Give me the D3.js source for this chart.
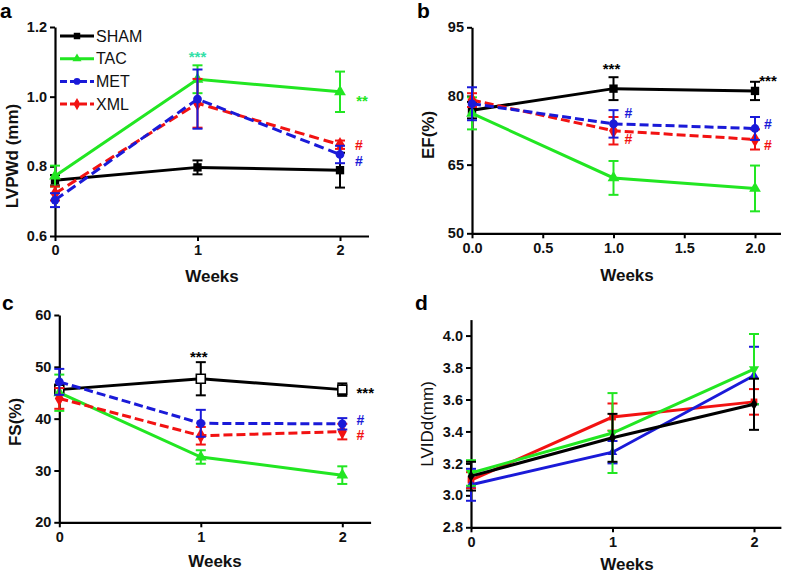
<!DOCTYPE html>
<html>
<head>
<meta charset="utf-8">
<script src="https://cdn.jsdelivr.net/npm/d3@7"></script>
<style>
  html, body { margin: 0; padding: 0; background: #fff; }
  svg { display: block; font-family: Arial, "Liberation Sans", sans-serif; }
</style>
</head>
<body>
<svg id="chart" width="787" height="574"></svg>
<script>
// ---------------- data ----------------
const weeks = [0, 1, 2];
const groups = ["SHAM", "TAC", "MET", "XML"];

// panel a: LVPWd (mm)  rows = SHAM, TAC, MET, XML
const lvpwdMean = [[0.760, 0.797, 0.789], [0.772, 1.050, 1.014], [0.703, 0.993, 0.834], [0.722, 0.981, 0.862]];
const lvpwdErr  = [[0.015, 0.020, 0.050], [0.030, 0.040, 0.058], [0.020, 0.085, 0.025], [0.020, 0.070, 0.012]];
const lvpwdTicks = [0.6, 0.8, 1.0, 1.2];

// panel b: EF(%)
const efMean = [[76.9, 81.6, 81.1], [76.2, 62.1, 59.8], [78.3, 73.9, 72.9], [79.1, 72.4, 70.5]];
const efErr  = [[1.8, 2.5, 2.0], [3.5, 3.7, 5.0], [3.6, 3.0, 2.5], [1.5, 3.0, 2.2]];
const efTicks = [50, 65, 80, 95];
const efWeekTicks = [0, 0.5, 1, 1.5, 2];

// panel c: FS(%)
const fsMean = [[45.6, 47.7, 45.6], [45.0, 32.6, 29.1], [47.1, 39.1, 39.0], [43.9, 36.7, 37.5]];
const fsErr  = [[1.0, 3.2, 1.2], [3.5, 1.3, 1.7], [2.5, 2.6, 1.1], [2.0, 1.7, 1.5]];
const fsTicks = [20, 30, 40, 50, 60];

// panel d: LVIDd(mm)
const lviddMean = [[3.12, 3.36, 3.57], [3.14, 3.39, 3.79], [3.066, 3.27, 3.75], [3.095, 3.49, 3.585]];
const lviddErr  = [[0.09, 0.15, 0.16], [0.08, 0.25, 0.22], [0.10, 0.07, 0.18], [0.05, 0.085, 0.08]];
const lviddTicks = [2.8, 3.0, 3.2, 3.4, 3.6, 3.8, 4.0];

// significance marks: [text, week, value, colour key]
const lvpwdMarks = [["***", 1, 1.125, "teal"], ["**", 2, 1.0, "TAC"], ["#", 2, 0.861, "XML"], ["#", 2, 0.816, "MET"]];
const efMarks = [["***", 1, 86.8, "SHAM"], ["***", 2, 84.1, "SHAM"], ["#", 1, 76.3, "MET"], ["#", 1, 70.6, "XML"], ["#", 2, 73.9, "MET"], ["#", 2, 69.3, "XML"]];
const fsMarks = [["***", 1, 52.7, "SHAM"], ["***", 2, 45.7, "SHAM"], ["#", 2, 39.8, "MET"], ["#", 2, 36.8, "XML"]];

// ---------------- styles ----------------
const colors = { SHAM: "#000000", TAC: "#22e622", MET: "#1a1ad8", XML: "#f21212", teal: "#33e0a8" };
const markShapes = { SHAM: d3.symbolSquare, TAC: d3.symbolTriangle, MET: d3.symbolCircle, XML: d3.symbolDiamond };
const markSizes = { SHAM: 70, TAC: 60, MET: 60, XML: 70 };

const svg = d3.select("#chart");
svg.append("rect").attr("width", 787).attr("height", 574).attr("fill", "#fff");

function drawPanel(cfg) {
  const g = svg.append("g");
  const x = d3.scaleLinear().domain([0, cfg.xMax]).range([cfg.x0, cfg.x0 + (cfg.x2 - cfg.x0) * cfg.xMax / 2]);
  const y = d3.scaleLinear().domain(cfg.yDomain).range(cfg.yRange);

  // axes
  const yAxis = d3.axisLeft(y).tickValues(cfg.yTicks).tickSize(5).tickSizeOuter(0).tickPadding(3)
    .tickFormat(cfg.yFormat);
  const ya = g.append("g").attr("transform", `translate(${cfg.x0},0)`).call(yAxis);
  const xAxis = d3.axisBottom(x).tickValues(cfg.xTicks).tickSize(5).tickSizeOuter(0).tickPadding(4)
    .tickFormat(cfg.xFormat);
  const xa = g.append("g").attr("transform", `translate(0,${y(cfg.yDomain[0])})`).call(xAxis);
  [ya, xa].forEach(a => {
    a.select(".domain").attr("stroke", "#000").attr("stroke-width", 2.2);
    a.selectAll(".tick line").attr("stroke", "#000").attr("stroke-width", 2);
    a.selectAll(".tick text").attr("fill", "#111").attr("font-size", 14.5).attr("font-weight", "bold")
      .attr("font-family", "Arial, 'Liberation Sans', sans-serif");
  });

  // series
  const line = d3.line().x(d => x(d[0])).y(d => y(d[1]));
  cfg.order.forEach(gi => {
    const name = groups[gi];
    const col = colors[name];
    const pts = weeks.map((w, i) => [w, cfg.mean[gi][i], cfg.err[gi][i]]);
    const sg = g.append("g");
    sg.append("path").datum(pts).attr("d", line).attr("fill", "none").attr("stroke", col)
      .attr("stroke-width", cfg.lineWidth)
      .attr("stroke-dasharray", cfg.dashed.includes(name) ? cfg.dash : null);
    pts.forEach(p => {
      const cx = x(p[0]), top = y(p[1] + p[2]), bot = y(p[1] - p[2]);
      sg.append("line").attr("x1", cx).attr("x2", cx).attr("y1", top).attr("y2", bot)
        .attr("stroke", col).attr("stroke-width", 2);
      [top, bot].forEach(yy => sg.append("line").attr("x1", cx - 5).attr("x2", cx + 5)
        .attr("y1", yy).attr("y2", yy).attr("stroke", col).attr("stroke-width", 2));
    });
    const shape = cfg.shapes[name];
    sg.selectAll("path.mk").data(pts).enter().append("path").attr("class", "mk")
      .attr("d", d3.symbol().type(shape.type).size(shape.size))
      .attr("transform", d => `translate(${x(d[0])},${y(d[1])}) rotate(${shape.rot || 0})`)
      .attr("fill", shape.open ? "#fff" : col).attr("stroke", col).attr("stroke-width", shape.open ? 1.6 : 0);
  });

  // marks
  (cfg.marks || []).forEach(m => {
    const dx = m[1] === 2 ? cfg.markDx2[m[0]] : cfg.markDx1[m[0]];
    g.append("text").text(m[0]).attr("x", x(m[1]) + dx).attr("y", y(m[2])).attr("dy", m[0] === "#" ? "0.36em" : "0.62em")
      .attr("text-anchor", "middle").attr("font-weight", "bold")
      .attr("font-size", m[0] === "#" ? 14 : 15).attr("fill", colors[m[3]]);
  });

  // titles
  g.append("text").text(cfg.title).attr("transform", `translate(${cfg.titleX},${cfg.titleY}) rotate(-90)`)
    .attr("text-anchor", "middle").attr("font-size", 17).attr("font-weight", cfg.titleWeight).attr("fill", "#111");
  g.append("text").text("Weeks").attr("x", cfg.weeksX).attr("y", cfg.weeksY)
    .attr("text-anchor", "middle").attr("font-size", 17).attr("font-weight", "bold").attr("fill", "#111");
  g.append("text").text(cfg.label).attr("x", cfg.labelX).attr("y", cfg.labelY)
    .attr("font-size", 21).attr("font-weight", "bold").attr("fill", "#000");
  return { x, y, g };
}

const shapesStd = {
  SHAM: { type: d3.symbolSquare, size: 70 },
  TAC: { type: d3.symbolTriangle, size: 60 },
  MET: { type: d3.symbolCircle, size: 60 },
  XML: { type: d3.symbolDiamond, size: 70 }
};
const fmt1 = d3.format(".1f");
const fmt0 = d3.format("d");

const pa = drawPanel({
  mean: lvpwdMean, err: lvpwdErr, x0: 55, x2: 340, xMax: 2.2,
  yDomain: [0.6, 1.2], yRange: [236, 27], yTicks: lvpwdTicks, yFormat: fmt1,
  xTicks: weeks, xFormat: fmt0, order: [0, 1, 3, 2], dashed: ["MET", "XML"], dash: "10,5", lineWidth: 3,
  shapes: shapesStd, marks: lvpwdMarks, markDx1: { "***": 0, "#": 0, "**": 0 }, markDx2: { "**": 22, "#": 19, "***": 0 },
  title: "LVPWd (mm)", titleX: 18, titleY: 156, titleWeight: "bold",
  weeksX: 212, weeksY: 282, label: "a", labelX: 0, labelY: 18
});

// legend (panel a)
groups.forEach((name, i) => {
  const ly = 36 + i * 22.7;
  const dashed = name === "MET" || name === "XML";
  pa.g.append("line").attr("x1", 60).attr("x2", 94).attr("y1", ly).attr("y2", ly)
    .attr("stroke", colors[name]).attr("stroke-width", 3).attr("stroke-dasharray", dashed ? "7,3" : null);
  pa.g.append("path").attr("d", d3.symbol().type(markShapes[name]).size(markSizes[name] * 0.6)())
    .attr("transform", `translate(77,${ly})`).attr("fill", colors[name]);
  pa.g.append("text").text(name).attr("x", 96).attr("y", ly).attr("dy", "0.36em")
    .attr("font-size", 16).attr("fill", "#111");
});

drawPanel({
  mean: efMean, err: efErr, x0: 472, x2: 755, xMax: 2.18,
  yDomain: [50, 95], yRange: [233.3, 27.3], yTicks: efTicks, yFormat: fmt0,
  xTicks: efWeekTicks, xFormat: fmt1, order: [0, 1, 3, 2], dashed: ["MET", "XML"], dash: "9,4", lineWidth: 3,
  shapes: shapesStd, marks: efMarks, markDx1: { "***": -2, "#": 15 }, markDx2: { "***": 13, "#": 13 },
  title: "EF(%)", titleX: 434, titleY: 135, titleWeight: "bold",
  weeksX: 627, weeksY: 281, label: "b", labelX: 417, labelY: 18
});

drawPanel({
  mean: fsMean, err: fsErr, x0: 59.3, x2: 342.3, xMax: 2.2,
  yDomain: [20, 60], yRange: [522.3, 315], yTicks: fsTicks, yFormat: fmt0,
  xTicks: weeks, xFormat: fmt0, order: [0, 1, 3, 2], dashed: ["MET", "XML"], dash: "9,4", lineWidth: 3,
  shapes: Object.assign({}, shapesStd, { SHAM: { type: d3.symbolSquare, size: 80, open: true } }),
  marks: fsMarks, markDx1: { "***": -2 }, markDx2: { "***": 23, "#": 18 },
  title: "FS(%)", titleX: 21, titleY: 422, titleWeight: "bold",
  weeksX: 215, weeksY: 567, label: "c", labelX: 2, labelY: 310
});

drawPanel({
  mean: lviddMean, err: lviddErr, x0: 471, x2: 754, xMax: 2.19,
  yDomain: [2.8, 4.1], yRange: [527.3, 319.6], yTicks: lviddTicks, yFormat: fmt1,
  xTicks: weeks, xFormat: fmt0, order: [3, 2, 1, 0], dashed: [], dash: null, lineWidth: 3,
  shapes: {
    SHAM: { type: d3.symbolDiamond, size: 40 },
    TAC: { type: d3.symbolTriangle, size: 45, rot: 180 },
    MET: { type: d3.symbolTriangle, size: 40 },
    XML: { type: d3.symbolSquare, size: 45 }
  },
  marks: [], markDx1: {}, markDx2: {},
  title: "LVIDd(mm)", titleX: 433, titleY: 424, titleWeight: "normal",
  weeksX: 627, weeksY: 570, label: "d", labelX: 415, labelY: 310
});
</script>
</body>
</html>
